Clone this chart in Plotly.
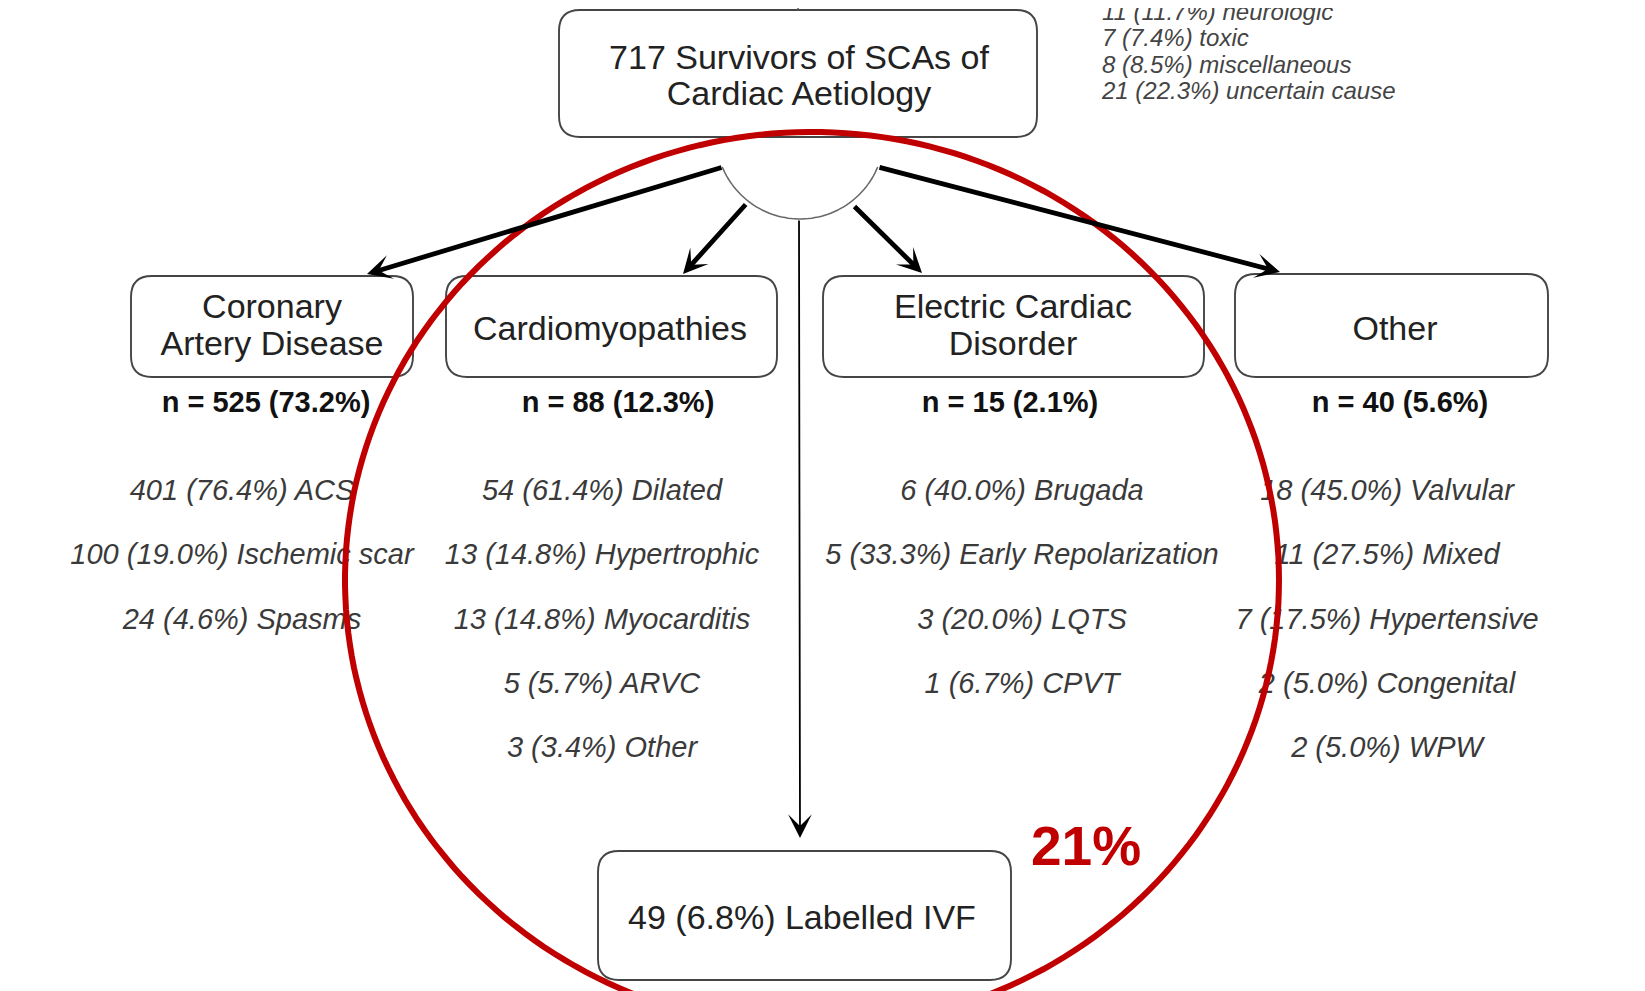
import numpy as np
import plotly.graph_objects as go

# ---------------- data ----------------
top_lines = ["717 Survivors of SCAs of", "Cardiac Aetiology"]
group_titles = [["Coronary", "Artery Disease"], ["Cardiomyopathies"],
                ["Electric Cardiac", "Disorder"], ["Other"]]
group_n = [525, 88, 15, 40]
group_pct = [73.2, 12.3, 2.1, 5.6]

cad_labels = ["ACS", "Ischemic scar", "Spasms"]
cad_counts = [401, 100, 24]
cad_pct = [76.4, 19.0, 4.6]

cm_labels = ["Dilated", "Hypertrophic", "Myocarditis", "ARVC", "Other"]
cm_counts = [54, 13, 13, 5, 3]
cm_pct = [61.4, 14.8, 14.8, 5.7, 3.4]

ecd_labels = ["Brugada", "Early Repolarization", "LQTS", "CPVT"]
ecd_counts = [6, 5, 3, 1]
ecd_pct = [40.0, 33.3, 20.0, 6.7]

oth_labels = ["Valvular", "Mixed", "Hypertensive", "Congenital", "WPW"]
oth_counts = [18, 11, 7, 2, 2]
oth_pct = [45.0, 27.5, 17.5, 5.0, 5.0]

note_labels = ["neurologic", "toxic", "miscellaneous", "uncertain cause"]
note_counts = [11, 7, 8, 21]
note_pct = [11.7, 7.4, 8.5, 22.3]

ivf_n = 49
ivf_pct = 6.8
highlight_text = "21%"

# ---------------- layout constants (page pixels) ----------------
PAGE_W, PAGE_H = 1645, 991
BODY = 8                      # default page margin around the figure
W, H = PAGE_W - BODY, PAGE_H - BODY
FONT = "Liberation Sans, Arial, sans-serif"

top_box = (559, 10, 1037, 137)
group_boxes = [(131, 276, 413, 377), (446, 276, 777, 377),
               (823, 276, 1204, 377), (1235, 274, 1548, 377)]
bottom_box = (598, 851, 1011, 980)
title_x = [272, 610, 1013, 1395]
title_y2 = [309, 346]
title_y1 = 331
n_x = [266, 618, 1010, 1400]
n_y = 405
item_x = [242, 602, 1022, 1387]
item_y0, item_dy = 493, 64.2
note_x, note_y0, note_dy = 1102, 14, 26.3


def rrect(x0, y0, x1, y1, r=21):
    return (f"M{x0+r},{y0} L{x1-r},{y0} Q{x1},{y0} {x1},{y0+r} "
            f"L{x1},{y1-r} Q{x1},{y1} {x1-r},{y1} L{x0+r},{y1} "
            f"Q{x0},{y1} {x0},{y1-r} L{x0},{y0+r} Q{x0},{y0} {x0+r},{y0} Z")


def poly(xs, ys, close=False):
    p = "M" + " L".join(f"{a:.1f},{b:.1f}" for a, b in zip(xs, ys))
    return p + (" Z" if close else "")


fig = go.Figure()
shapes = []

# boxes
for b in [top_box] + group_boxes + [bottom_box]:
    shapes.append(dict(type="path", path=rrect(*b), xref="x", yref="y",
                       line=dict(color="#454545", width=1.9), fillcolor="rgba(0,0,0,0)"))

# small arc under the top box
t = np.linspace(np.radians(22.4), np.radians(157.6), 60)
shapes.append(dict(type="path", path=poly(800 + 84 * np.cos(t), 135 + 84 * np.sin(t)),
                   xref="x", yref="y", line=dict(color="#666666", width=1.5)))
# stub at top
shapes.append(dict(type="line", x0=798, x1=798, y0=0, y1=11, xref="x", yref="y",
                   line=dict(color="#555", width=1.5)))

# red highlight ellipse (above text)
t2 = np.linspace(0, 2 * np.pi, 240)
shapes.append(dict(type="path", path=poly(812 + 467 * np.cos(t2), 580 + 448 * np.sin(t2), True),
                   xref="x", yref="y", layer="above",
                   line=dict(color="#c00000", width=6), fillcolor="rgba(0,0,0,0)"))

# ---------------- text traces ----------------
def add_text(xs, ys, texts, size, color, style="normal", weight="normal", pos="middle center"):
    fig.add_trace(go.Scatter(x=xs, y=ys, text=texts, mode="text", textposition=pos,
                             textfont=dict(family=FONT, size=size, color=color,
                                           style=style, weight=weight),
                             hoverinfo="skip", showlegend=False))

# top box
add_text([799, 799], [60, 96], top_lines, 34, "#222222")

# group titles
tx, ty, tt = [], [], []
for i, lines in enumerate(group_titles):
    if len(lines) == 2:
        tx += [title_x[i]] * 2
        ty += title_y2
        tt += lines
    else:
        tx.append(title_x[i])
        ty.append(title_y1)
        tt.append(lines[0])
add_text(tx, ty, tt, 34, "#222222")

# n = ...
add_text(n_x, [n_y] * 4, [f"n = {n} ({p:.1f}%)" for n, p in zip(group_n, group_pct)],
         29, "#111111", weight="bold")

# sub-items
ix, iy, it = [], [], []
for col, (labs, cnts, pcts) in enumerate([(cad_labels, cad_counts, cad_pct),
                                          (cm_labels, cm_counts, cm_pct),
                                          (ecd_labels, ecd_counts, ecd_pct),
                                          (oth_labels, oth_counts, oth_pct)]):
    for r, (l, c, p) in enumerate(zip(labs, cnts, pcts)):
        ix.append(item_x[col])
        iy.append(item_y0 + r * item_dy)
        it.append(f"{c} ({p:.1f}%) {l}")
add_text(ix, iy, it, 29, "#3a3a3a", style="italic")

# notes top right
add_text([note_x] * 4, [note_y0 + k * note_dy for k in range(4)],
         [f"{c} ({p:.1f}%) {l}" for l, c, p in zip(note_labels, note_counts, note_pct)],
         24, "#444444", style="italic", pos="middle right")

# bottom box text
add_text([802], [920], [f"{ivf_n} ({ivf_pct:.1f}%) Labelled IVF"], 34, "#222222")

# ---------------- arrows ----------------
arrows = [
    ((723, 167), (367, 274), 4.8, 3, 0.85),
    ((747, 203), (683, 274), 4.8, 3, 0.85),
    ((853, 205), (922, 273), 4.8, 3, 0.85),
    ((878, 167), (1280, 272), 4.8, 3, 0.85),
    ((799, 219), (800, 838), 1.8, 3, 2.2),
]
annotations = []
for (ax, ay), (x, y), w, head, sz in arrows:
    annotations.append(dict(x=x, y=y, ax=ax, ay=ay, xref="x", yref="y", axref="x", ayref="y",
                            text="", showarrow=True, arrowhead=head, arrowsize=sz,
                            arrowwidth=w, arrowcolor="#000000", standoff=0))

annotations.append(dict(x=1086, y=846, xref="x", yref="y", text=highlight_text, showarrow=False,
                        font=dict(family=FONT, size=55, color="#c00000", weight="bold"),
                        xanchor="center", yanchor="middle"))

fig.update_layout(
    width=W, height=H,
    margin=dict(l=0, r=0, t=0, b=0),
    paper_bgcolor="#ffffff", plot_bgcolor="#ffffff",
    xaxis=dict(range=[BODY, PAGE_W], visible=False, fixedrange=True),
    yaxis=dict(range=[PAGE_H, BODY], visible=False, fixedrange=True),
    shapes=shapes, annotations=annotations, showlegend=False,
)

fig.write_html("out.html")
